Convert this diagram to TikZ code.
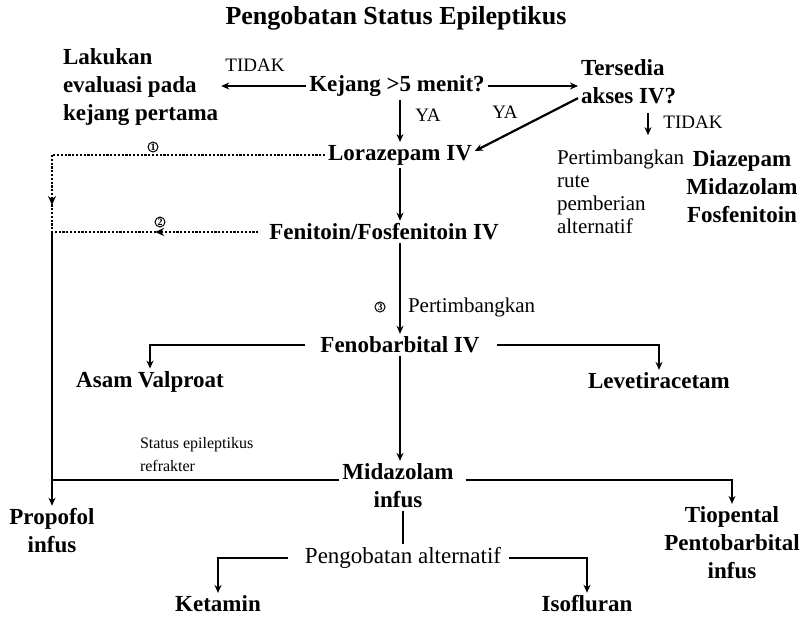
\documentclass[tikz,border=0pt]{standalone}
\usepackage{fontspec}
\setmainfont{Liberation Serif}
\usetikzlibrary{arrows.meta,decorations.markings}
\begin{document}
\begin{tikzpicture}
  [x=1pt,y=-1pt,every node/.style={inner sep=1pt,outer sep=2pt},
   bx/.style={font=\fontsize{23}{28}\selectfont\bfseries,align=center},
   tx/.style={font=\fontsize{21}{23}\selectfont},
   lbl/.style={font=\fontsize{19}{21}\selectfont},
   arr/.style={line width=2.2pt,-{Stealth[length=8pt,width=7pt]}},
   ln/.style={line width=2.6pt},
   dl/.style={line width=2.8pt,dash pattern=on 2.2pt off 1.6pt},
   midtip/.style={postaction={decorate},decoration={markings,
     mark=at position #1 with {\arrow{Stealth[length=9pt,width=8pt]}}}},
   num/.style={circle,draw,fill=white,line width=1pt,inner sep=0.6pt,
     font=\fontsize{10}{10}\selectfont\bfseries}]
  \useasboundingbox (0,0) rectangle (811,621);
  \node (ttl)[font=\fontsize{26}{30}\selectfont\bfseries] at (396,18) {Pengobatan Status Epileptikus};
  \node (lak)[bx,align=left,anchor=west] at (60,87) {Lakukan\\evaluasi pada\\kejang pertama};
  \node (kej)[bx] at (397,86) {Kejang >5 menit?};
  \node (ters)[bx,align=left,anchor=west] at (578,82) {Tersedia\\akses IV?};
  \node (lor)[bx] at (400,155) {Lorazepam IV};
  \node (prt)[tx,align=left,anchor=west] at (554,192) {Pertimbangkan\\rute\\pemberian\\alternatif};
  \node (alt)[bx] at (742,187) {Diazepam\\Midazolam\\Fosfenitoin};
  \node (fen)[bx] at (384,232) {Fenitoin/Fosfenitoin IV};
  \node (fnb)[bx] at (400,345) {Fenobarbital IV};
  \node (asam)[bx] at (150,382) {Asam Valproat};
  \node (lev)[bx] at (659,381) {Levetiracetam};
  \node (mid)[bx] at (398,486) {Midazolam\\infus};
  \node (prop)[bx] at (52,531) {Propofol\\infus};
  \node (tio)[bx] at (732,543) {Tiopental\\Pentobarbital\\infus};
  \node (peng)[tx,font=\fontsize{23}{25}\selectfont] at (403,558) {Pengobatan alternatif};
  \node (ket)[bx] at (218,604) {Ketamin};
  \node (iso)[bx] at (587,604) {Isofluran};
  \node (td1)[lbl] at (255,65) {TIDAK};
  \node (ya1)[lbl] at (428,115) {YA};
  \node (ya2)[lbl] at (505,112) {YA};
  \node (td2)[lbl] at (693,122) {TIDAK};
  \node (prt2)[tx,anchor=west] at (405,307) {Pertimbangkan};
  \node (ref)[font=\fontsize{16}{23}\selectfont,align=left,anchor=west] at (137,455) {Status epileptikus\\refrakter};
  \coordinate (tt) at (648,113);
  \coordinate (lt) at (52,155);
  \coordinate (lm) at (52,232);
  \coordinate (lb) at (52,480);
  \foreach \from/\to in {kej/lor,lor/fen,fen/fnb,fnb/mid}
    \draw[arr] (\from.south -| lor) -- (\to.north -| lor);
  \draw[arr] (kej.west) -- (kej.west -| lak.east);
  \draw[arr] (kej.east) -- (kej.east -| ters.west);
  \draw[arr] ([yshift=9pt]ters.south west) -- ([yshift=4pt]lor.east);
  \draw[arr,shorten >=12pt] (tt) -- (tt |- prt.north);
  \draw[dl] (lor.west) -- (lt);
  \draw[dl,midtip=0.65] (lt) -- (lm);
  \draw[dl,midtip=0.5] ([xshift=-8pt]fen.west) -- (fen.west -| lm);
  \draw[ln] (lm) -- (lb);
  \draw[arr,ln] (mid.west |- lb) -- (lb) -- (prop.north -| lb);
  \draw[arr,ln] ([xshift=9pt]mid.east |- lb) -- (lb -| tio.north) -- (tio.north);
  \draw[arr,ln] ([xshift=-12pt]fnb.west) -- (fnb.west -| asam.north) -- (asam.north);
  \draw[arr,ln] ([xshift=14pt]fnb.east) -- (fnb.east -| lev.north) -- (lev.north);
  \draw[ln] (peng.north |- mid.south) -- (peng.north);
  \draw[arr,ln] ([xshift=-14pt]peng.west) -- (peng.west -| ket.north) -- (ket.north);
  \draw[arr,ln] ([xshift=5pt]peng.east) -- (peng.east -| iso.north) -- (iso.north);
  \node (c1)[num] at (153,147) {1};
  \node (c2)[num] at (160,222) {2};
  \node (c3)[num] at (380,307) {3};
\end{tikzpicture}
\end{document}
